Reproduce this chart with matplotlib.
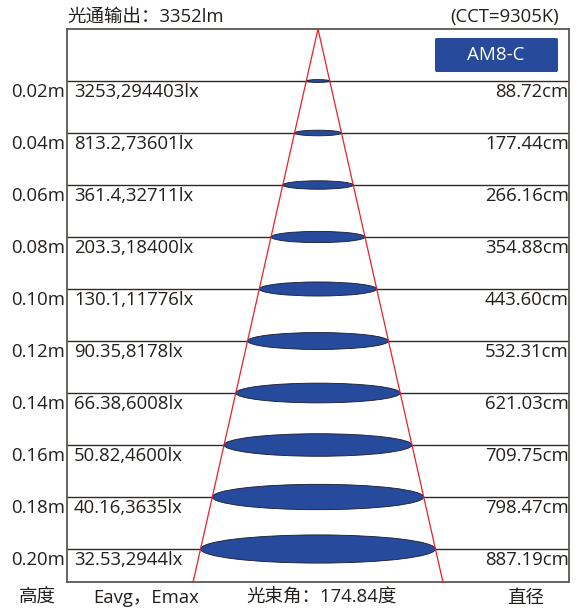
import numpy as np
import matplotlib
matplotlib.use("Agg")
import matplotlib.pyplot as plt
from matplotlib.patches import Ellipse, FancyBboxPatch

plt.rcParams['font.family'] = ['Open Sans', 'Noto Sans CJK SC', 'DejaVu Sans']

# data
heights = [0.02, 0.04, 0.06, 0.08, 0.10, 0.12, 0.14, 0.16, 0.18, 0.20]
eavg = ['3253', '813.2', '361.4', '203.3', '130.1', '90.35', '66.38', '50.82', '40.16', '32.53']
emax = ['294403', '73601', '32711', '18400', '11776', '8178', '6008', '4600', '3635', '2944']
diam = [88.72, 177.44, 266.16, 354.88, 443.60, 532.31, 621.03, 709.75, 798.47, 887.19]

title_left = '光通输出：3352lm'
title_right = '(CCT=9305K)'
model = 'AM8-C'
bottom_labels = ['高度', 'Eavg，Emax', '光束角：174.84度', '直径']

W, H = 586, 611
fs = 13.3
fig = plt.figure(figsize=(W / 100, H / 100), dpi=100)

# box in pixels: x 67..569, y 29..582
bx0, bx1, by0, by1 = 67, 569, 29, 582
ax = fig.add_axes([bx0 / W, 1 - by1 / H, (bx1 - bx0) / W, (by1 - by0) / H])

cm_per_px = 948 / 251
m_per_px = 0.02 / 52
xmax = 251 * cm_per_px
ymax = (by1 - by0) * m_per_px
ax.set_xlim(-xmax, xmax)
ax.set_ylim(ymax, 0)
ax.set_xticks([])
ax.set_yticks([])
for s in ax.spines.values():
    s.set_color('#5e5753')
    s.set_linewidth(1.3)

# horizontal rows
for h in heights:
    ax.axhline(h, color='#2f2a27', lw=1.0, zorder=1)

# beam spots
for h, d in zip(heights, diam):
    w_px = d / cm_per_px
    eh = 0.12 * w_px * m_per_px
    ax.add_patch(Ellipse((0, h), d, eh, facecolor='#264a9c',
                         edgecolor='#1b1b2a', lw=0.6, zorder=2))

# beam cone
half = diam[-1] / 2 / heights[-1] * ymax
ax.plot([-half, 0, half], [ymax, 0, ymax], color='#e8202a', lw=0.9, zorder=3,
        clip_on=False)

# row labels
dy = 11 * m_per_px
x_left_txt = (74 - 318) * cm_per_px
for h, a, e, d in zip(heights, eavg, emax, diam):
    ax.text(x_left_txt, h + dy, f'{a},{e}lx', fontsize=fs, color='#231f1d',
            ha='left', va='center')
    ax.text(xmax - 1, h + dy, f'{d:.2f}cm', fontsize=fs, color='#231f1d',
            ha='right', va='center')
    fig.text(65 / W, 1 - (by0 + h / m_per_px + 11) / H, f'{h:.2f}m',
             fontsize=fs, color='#231f1d', ha='right', va='center')

# header
fig.text(67 / W, 1 - 17 / H, title_left, fontsize=fs, color='#231f1d',
         ha='left', va='center')
fig.text(559 / W, 1 - 17 / H, title_right, fontsize=fs, color='#231f1d',
         ha='right', va='center')

# model badge
badge = FancyBboxPatch((435 / W, 1 - 72 / H), 123 / W, 34 / H,
                       boxstyle='round,pad=0,rounding_size=0.003',
                       transform=fig.transFigure, facecolor='#274a9b',
                       edgecolor='none', zorder=5)
fig.patches.append(badge)
fig.text(496 / W, 1 - 55 / H, model, fontsize=13.5, color='white',
         ha='center', va='center', zorder=6)

# footer
for xc, lab in zip([37, 146, 322, 526], bottom_labels):
    fig.text(xc / W, 1 - 598 / H, lab, fontsize=fs, color='#231f1d',
             ha='center', va='center')

fig.savefig('out.png', dpi=100)
